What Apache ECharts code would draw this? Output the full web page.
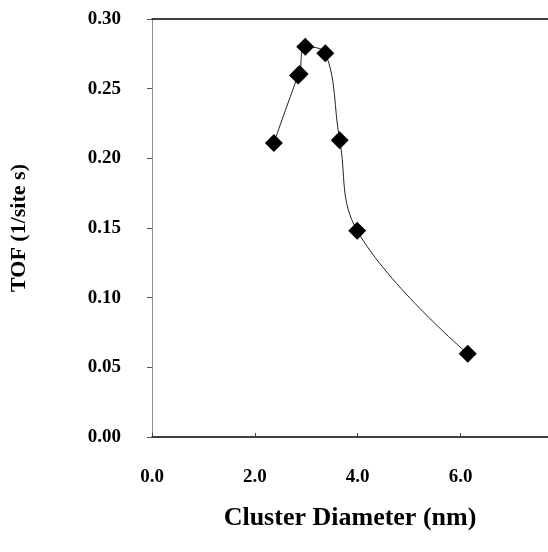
<!DOCTYPE html>
<html>
<head>
<meta charset="utf-8">
<script src="https://cdn.jsdelivr.net/npm/echarts@6/dist/echarts.min.js"></script>
<style>
  html, body { margin: 0; padding: 0; background: #fff; }
  #chart { width: 548px; height: 552px; }
</style>
</head>
<body>
<div id="chart"></div>
<script>
  // cluster diameter (nm) vs TOF (1/site s)
  const diameters = [2.37, 2.84, 2.87, 2.98, 3.37, 3.65, 3.99, 6.14];
  const tofValues = [0.211, 0.2595, 0.2605, 0.280, 0.2755, 0.213, 0.148, 0.0597];
  const xTicks = [0, 2, 4, 6];

  const FONT = '"Liberation Serif", "Times New Roman", serif';

  const chart = echarts.init(document.getElementById('chart'));
  chart.setOption({
    animation: false,
    grid: { left: 152, top: 19, right: 0, bottom: 115 },
    xAxis: [{
      type: 'value',
      min: 0,
      max: 7.7,
      interval: 2,
      name: 'Cluster Diameter (nm)',
      nameLocation: 'middle',
      nameGap: 68,
      nameTextStyle: { fontFamily: FONT, fontWeight: 'bold', fontSize: 26, color: '#000' },
      axisLine: { lineStyle: { color: '#000', width: 1.5 } },
      axisTick: { show: true, length: 4, inside: true, customValues: xTicks, lineStyle: { color: '#444' } },
      axisLabel: {
        customValues: xTicks,
        margin: 31,
        fontFamily: FONT, fontWeight: 'bold', fontSize: 19, color: '#000',
        formatter: function (v) { return v.toFixed(1); }
      },
      splitLine: { show: false }
    }, {
      type: 'value',
      position: 'top',
      min: 0,
      max: 7.7,
      axisLine: { show: true, lineStyle: { color: '#000', width: 1.5 } },
      axisTick: { show: false },
      axisLabel: { show: false },
      splitLine: { show: false }
    }],
    yAxis: {
      type: 'value',
      min: 0,
      max: 0.30,
      interval: 0.05,
      name: 'TOF (1/site s)',
      nameLocation: 'middle',
      nameGap: 122,
      nameTextStyle: { fontFamily: FONT, fontWeight: 'bold', fontSize: 22, color: '#000' },
      axisLine: { show: true, lineStyle: { color: '#777', width: 1, type: 'dotted' } },
      axisTick: { show: true, length: 5, lineStyle: { color: '#555' } },
      axisLabel: {
        margin: 31,
        fontFamily: FONT, fontWeight: 'bold', fontSize: 19, color: '#000',
        formatter: function (v) { return v.toFixed(2); }
      },
      splitLine: { show: false }
    },
    series: [{
      type: 'line',
      data: diameters.map(function (d, i) { return [d, tofValues[i]]; }),
      smooth: 0.4,
      symbol: 'diamond',
      symbolSize: 18,
      lineStyle: { color: '#222', width: 1 },
      itemStyle: { color: '#000' }
    }]
  });
</script>
</body>
</html>
